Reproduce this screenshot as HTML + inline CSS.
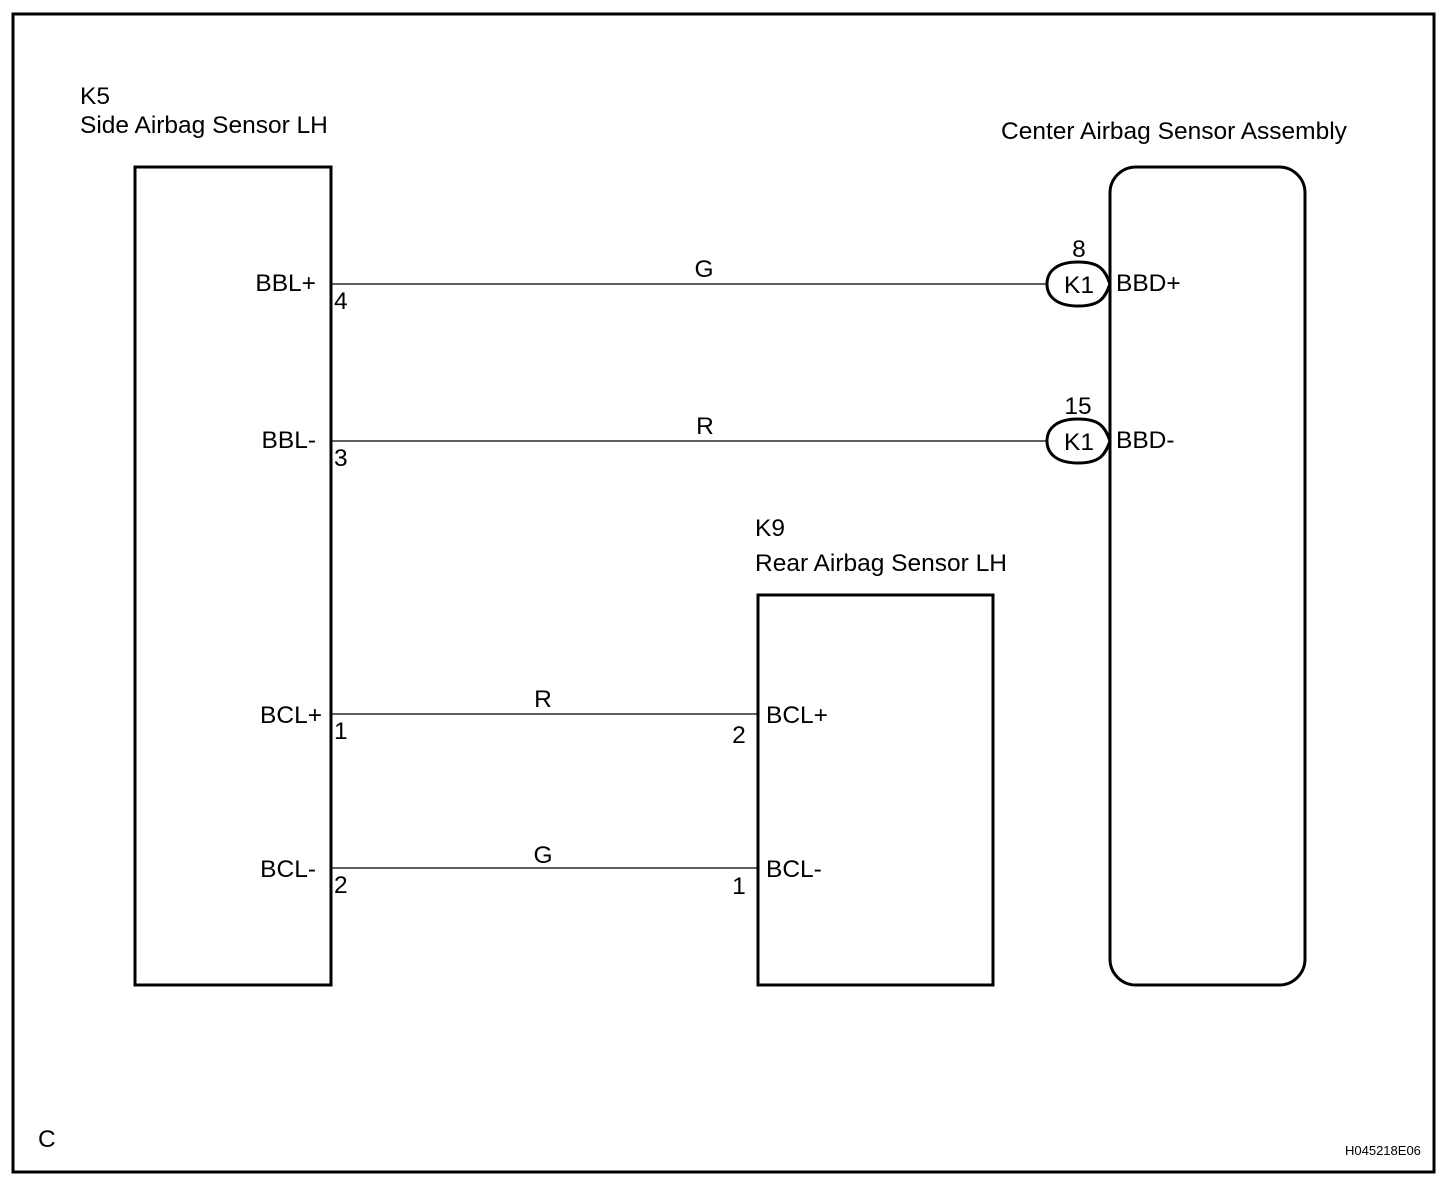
<!DOCTYPE html>
<html><head><style>body{margin:0;background:#fff}svg{display:block}text{font-family:"Liberation Sans",sans-serif;font-size:24.5px;fill:#000}</style></head><body>
<svg width="1456" height="1192" xmlns="http://www.w3.org/2000/svg">
<rect x="13" y="14" width="1421" height="1158" fill="none" stroke="#000" stroke-width="3"/>
<rect x="135" y="167" width="196" height="818" fill="none" stroke="#000" stroke-width="3"/>
<rect x="1110" y="167" width="195" height="818" rx="26" fill="none" stroke="#000" stroke-width="3"/>
<rect x="758" y="595" width="235" height="390" fill="none" stroke="#000" stroke-width="3"/>
<g stroke="#000" stroke-width="1.3">
<line x1="331" y1="284" x2="1047" y2="284"/>
<line x1="331" y1="441" x2="1047" y2="441"/>
<line x1="331" y1="714" x2="758" y2="714"/>
<line x1="331" y1="868" x2="758" y2="868"/>
</g>
<path d="M1110 284 C1105 270 1100 262 1078 262 C1056 262 1047 272 1047 284 C1047 296 1056 306 1078 306 C1100 306 1105 298 1110 284" fill="#fff" stroke="#000" stroke-width="3"/>
<path d="M1110 441 C1105 427 1100 419 1078 419 C1056 419 1047 429 1047 441 C1047 453 1056 463 1078 463 C1100 463 1105 455 1110 441" fill="#fff" stroke="#000" stroke-width="3"/>
<text x="80" y="104">K5</text>
<text x="80" y="133">Side Airbag Sensor LH</text>
<text x="1001" y="139">Center Airbag Sensor Assembly</text>
<text x="755" y="536">K9</text>
<text x="755" y="571">Rear Airbag Sensor LH</text>
<text x="316" y="291" text-anchor="end">BBL+</text>
<text x="316" y="448" text-anchor="end">BBL-</text>
<text x="322" y="723" text-anchor="end">BCL+</text>
<text x="316" y="877" text-anchor="end">BCL-</text>
<text x="334" y="309">4</text>
<text x="334" y="466">3</text>
<text x="334" y="739">1</text>
<text x="334" y="893">2</text>
<text x="704" y="277" text-anchor="middle">G</text>
<text x="705" y="434" text-anchor="middle">R</text>
<text x="543" y="707" text-anchor="middle">R</text>
<text x="543" y="863" text-anchor="middle">G</text>
<text x="1079" y="257" text-anchor="middle">8</text>
<text x="1078" y="414" text-anchor="middle">15</text>
<text x="1079" y="293" text-anchor="middle">K1</text>
<text x="1079" y="450" text-anchor="middle">K1</text>
<text x="1116" y="291">BBD+</text>
<text x="1116" y="448">BBD-</text>
<text x="739" y="743" text-anchor="middle">2</text>
<text x="739" y="894" text-anchor="middle">1</text>
<text x="766" y="723">BCL+</text>
<text x="766" y="877">BCL-</text>
<text x="38" y="1147">C</text>
<text x="1345" y="1155" style="font-size:13px">H045218E06</text>
</svg>
</body></html>
